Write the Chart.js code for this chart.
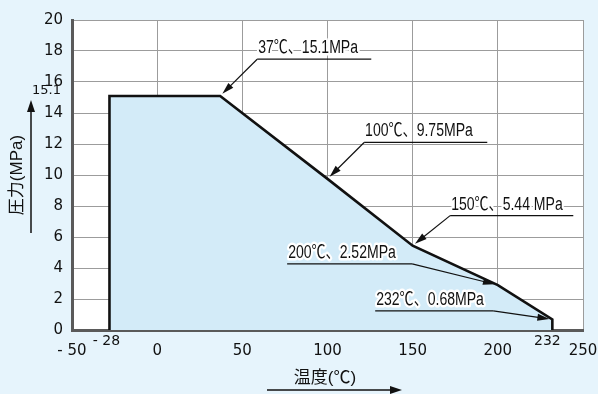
<!DOCTYPE html>
<html>
<head>
<meta charset="utf-8">
<script src="https://cdn.jsdelivr.net/npm/chart.js@4"></script>
<style>
  html, body { margin: 0; padding: 0; background: #e6f4fc; }
  #wrap { width: 598px; height: 394px; }
</style>
</head>
<body>
<div id="wrap"><canvas id="chart" width="598" height="394"></canvas></div>
<script>
/* ──── Données ─────────────────────────────────────────── */

const temps = [-28, -28, 37, 100, 150, 200, 232, 232];
const press = [0, 15.1, 15.1, 9.75, 5.44, 2.9, 0.68, 0];

const xTickLabels = ['- 50', '0', '50', '100', '150', '200', '250'];
const yTickLabels = ['0', '2', '4', '6', '8', '10', '12', '14', '16', '18', '20'];

const noteTexts  = ['37℃、15.1MPa', '100℃、9.75MPa', '150℃、5.44 MPa', '200℃、2.52MPa', '232℃、0.68MPa'];
const noteTemps  = [37, 100, 150, 200, 232];
const notePress  = [15.1, 9.75, 5.44, 2.9, 0.68];

/* leader lines, in axis units */
const leaders = [
  { y: 17.47, x1: 58.7,  x2: 125.7, from: 'left'  },
  { y: 12.1,  x1: 121.5, x2: 193.8, from: 'left'  },
  { y: 7.38,  x1: 172,   x2: 244.3, from: 'left'  },
  { y: 4.27,  x1: 76.3,  x2: 149.7, from: 'right' },
  { y: 1.23,  x1: 128,   x2: 197.3, from: 'right' },
];

const FONT_TXT = '"Liberation Sans", "Noto Sans CJK JP", sans-serif';
const FONT_NUM = '"DejaVu Sans", sans-serif';

/* ──── Helpers dessin ──────────────────────────────────── */

function arrow(ctx, x0, y0, x1, y1, len, half) {
  const a = Math.atan2(y1 - y0, x1 - x0);
  ctx.beginPath();
  ctx.moveTo(x0, y0);
  ctx.lineTo(x1 - Math.cos(a) * len * 0.8, y1 - Math.sin(a) * len * 0.8);
  ctx.stroke();
  ctx.beginPath();
  ctx.moveTo(x1, y1);
  ctx.lineTo(x1 - Math.cos(a) * len - Math.sin(a) * half, y1 - Math.sin(a) * len + Math.cos(a) * half);
  ctx.lineTo(x1 - Math.cos(a) * len + Math.sin(a) * half, y1 - Math.sin(a) * len - Math.cos(a) * half);
  ctx.closePath();
  ctx.fill();
}

function haloText(ctx, txt, x, y, size, sx) {
  ctx.save();
  ctx.translate(x, y);
  ctx.scale(sx, 1);
  ctx.font = size + 'px ' + FONT_TXT;
  ctx.textBaseline = 'alphabetic';
  ctx.textAlign = 'left';
  ctx.lineJoin = 'round';
  ctx.strokeStyle = '#fff';
  ctx.lineWidth = 5;
  ctx.strokeText(txt, 0, 0);
  ctx.fillStyle = '#111';
  ctx.fillText(txt, 0, 0);
  ctx.restore();
}

const plotBg = {
  id: 'plotBg',
  beforeDraw(chart) {
    const { ctx, chartArea: a } = chart;
    ctx.save();
    ctx.fillStyle = '#ffffff';
    ctx.fillRect(a.left, a.top, a.right - a.left, a.bottom - a.top);
    ctx.restore();
  },
};

const notes = {
  id: 'notes',
  afterDatasetsDraw(chart) {
    const { ctx, scales: { x, y }, chartArea: a } = chart;
    ctx.save();
    ctx.strokeStyle = '#111';
    ctx.fillStyle = '#111';
    ctx.lineWidth = 1.2;

    noteTexts.forEach((txt, i) => {
      const L  = leaders[i];
      const ly = y.getPixelForValue(L.y);
      const lx1 = x.getPixelForValue(L.x1);
      const lx2 = x.getPixelForValue(L.x2);
      const px = x.getPixelForValue(noteTemps[i]);
      const py = y.getPixelForValue(notePress[i]);

      haloText(ctx, txt, lx1 + 1, ly - 6, 18, 0.78);

      ctx.beginPath();
      ctx.moveTo(lx1, ly);
      ctx.lineTo(lx2, ly);
      ctx.stroke();

      const sx = L.from === 'left' ? lx1 : lx2;
      const ang = Math.atan2(py - ly, px - sx);
      arrow(ctx, sx, ly, px - Math.cos(ang) * 3, py - Math.sin(ang) * 3, 12, 3.5);
    });

    /* valeurs particulières sur les axes */
    ctx.fillStyle = '#111';
    ctx.font = '13px ' + FONT_NUM;
    ctx.textAlign = 'right';
    ctx.textBaseline = 'bottom';
    ctx.fillText('15.1', a.left - 11, y.getPixelForValue(15.1) + 1);

    ctx.font = '14px ' + FONT_NUM;
    ctx.textAlign = 'center';
    ctx.textBaseline = 'middle';
    ctx.fillText('- 28', x.getPixelForValue(-28) - 3, a.bottom + 11);
    ctx.fillText('232', x.getPixelForValue(232) - 5, a.bottom + 11);

    /* titres d'axes + flèches */
    ctx.font = '17px ' + FONT_TXT;
    ctx.save();
    ctx.translate(17, 175);
    ctx.rotate(-Math.PI / 2);
    ctx.fillText('圧力(MPa)', 0, 0);
    ctx.restore();
    ctx.lineWidth = 1.5;
    arrow(ctx, 31, 233, 31, 100, 12, 4);

    ctx.font = '17px ' + FONT_TXT;
    ctx.fillText('温度(℃)', 325, 378);
    arrow(ctx, 267, 390, 402, 390, 12, 4);

    ctx.restore();
  },
};

/* ──── Graphique ───────────────────────────────────────── */

const ctx = document.getElementById('chart').getContext('2d');
new Chart(ctx, {
  type: 'line',
  data: {
    datasets: [{
      data: temps.map((t, i) => ({ x: t, y: press[i] })),
      fill: 'origin',
      backgroundColor: '#d3ebf8',
      borderColor: '#111',
      borderWidth: 2.6,
      tension: 0,
      pointRadius: 0,
      borderJoinStyle: 'miter',
    }],
  },
  options: {
    responsive: false,
    animation: false,
    layout: { padding: { top: 20, right: 15, left: 0, bottom: 0 } },
    plugins: { legend: { display: false }, tooltip: { enabled: false } },
    scales: {
      x: {
        type: 'linear',
        min: -50, max: 250,
        ticks: {
          stepSize: 50,
          padding: 12,
          color: '#111',
          font: { family: FONT_NUM, size: 15 },
          callback: (v, i) => xTickLabels[i],
        },
        grid: { color: '#9c9c9c', lineWidth: 1, drawTicks: false },
        border: { color: '#5a5a5a', width: 3 },
        afterFit: s => { s.height = 64; s.paddingLeft = 0; s.paddingRight = 0; },
      },
      y: {
        min: 0, max: 20,
        ticks: {
          stepSize: 2,
          padding: 9,
          color: '#111',
          font: { family: FONT_NUM, size: 15 },
          callback: (v, i) => yTickLabels[i],
        },
        grid: { color: '#9c9c9c', lineWidth: 1, drawTicks: false },
        border: { color: '#5a5a5a', width: 3 },
        afterFit: s => { s.width = 72; s.paddingTop = 0; s.paddingBottom = 0; },
      },
    },
  },
  plugins: [plotBg, notes],
});
</script>
</body>
</html>
